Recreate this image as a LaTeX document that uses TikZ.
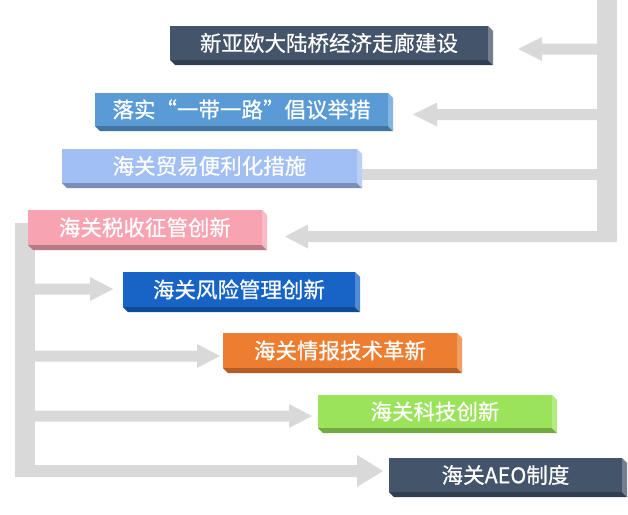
\documentclass[tikz,border=0pt]{standalone}
\usepackage{fontspec}
\newfontfamily\cjk[FakeBold=0.6]{Noto Sans CJK SC}
\definecolor{slate}{HTML}{44546A}
\definecolor{midblue}{HTML}{5B9BD5}
\definecolor{lightblue}{HTML}{A2BFF4}
\definecolor{pinkc}{HTML}{F7A3B2}
\definecolor{royal}{HTML}{1763C6}
\definecolor{orangec}{HTML}{ED7D31}
\definecolor{greenc}{HTML}{9BE35A}
\definecolor{gbarc}{HTML}{D9D9D9}
\tikzset{
  gbar/.style={fill=gbarc},
  boxtext/.style={text=white,font=\cjk\fontsize{21.5}{25}\selectfont,inner sep=0pt}
}
\newcommand\garrow[4]{%
  \fill[gbar] (#1,{#3-5.5}) -- ({#2+#4},{#3-5.5}) -- ({#2+#4},{#3-12}) -- (#2,#3) -- ({#2+#4},{#3+12}) -- ({#2+#4},{#3+5.5}) -- (#1,{#3+5.5}) -- cycle;}
\newcommand\cbox[7]{%
  \fill[#6] (#2,#3) rectangle ({#4-5},{#5-5});
  \fill[#6!75!black] (#2,{#5-5}) -- ({#4-5},{#5-5}) -- (#4,#5) -- ({#2+5},#5) -- cycle;
  \fill[#6!75!white] ({#4-5},#3) -- (#4,{#3+5}) -- (#4,#5) -- ({#4-5},{#5-5}) -- cycle;
  \node[boxtext] (#1) at ({(#2+#4-5)/2},{(#3+#5-5)/2}) {#7};}
\begin{document}
\begin{tikzpicture}[x=1pt,y=-1pt]
\useasboundingbox[fill=white] (0,0) rectangle (628,514);
% right structure
\fill[gbar] (597,0) rectangle (617,242);
\fill[gbar] (355,169) rectangle (597,180);
\garrow{597}{518}{49}{24}
\garrow{597}{413}{114.5}{24}
\garrow{617}{285}{236.5}{23}
% left structure
\fill[gbar] (15,223) rectangle (35,477);
\fill[gbar] (15,223) rectangle (40,233);
\garrow{15}{113}{289}{-23}
\garrow{15}{220}{356}{-23}
\garrow{15}{312}{416}{-23}
\fill[gbar] (15,465) -- (357,465) -- (357,455) -- (383,471) -- (357,487) -- (357,477) -- (15,477) -- cycle;
% boxes
\cbox{b1}{170}{26}{493}{65}{slate}{新亚欧大陆桥经济走廊建设}
\cbox{b2}{95}{93}{393}{131}{midblue}{落实“一带一路”倡议举措}
\cbox{b3}{62}{149}{362}{188}{lightblue}{海关贸易便利化措施}
\cbox{b4}{28}{210}{267}{250}{pinkc}{海关税收征管创新}
\cbox{b5}{123}{272}{360}{312}{royal}{海关风险管理创新}
\cbox{b6}{223}{333}{462}{373}{orangec}{海关情报技术革新}
\cbox{b7}{318}{395}{557}{433}{greenc}{海关科技创新}
\cbox{b8}{389}{458}{627}{497}{slate}{海关AEO制度}
\end{tikzpicture}
\end{document}
